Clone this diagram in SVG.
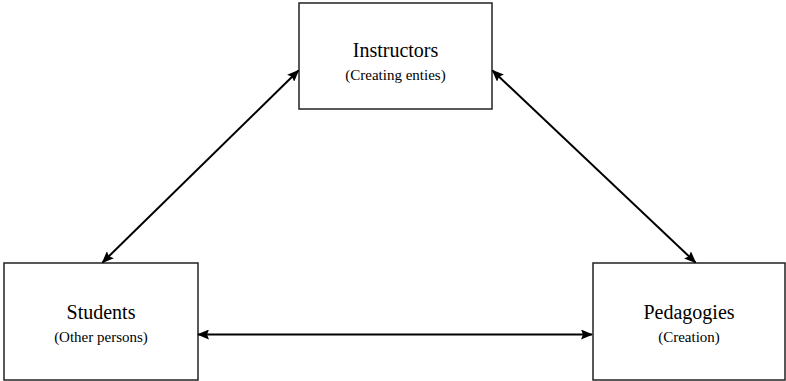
<svg xmlns="http://www.w3.org/2000/svg" width="786" height="381" viewBox="0 0 786 381">
<style>
.box{fill:#fff;stroke:#222;stroke-width:1.5}
.t{font-family:"Liberation Serif","Times New Roman",serif;fill:#000;text-anchor:middle}
.m{font-size:20px}
.s{font-size:15px}
.c{stroke:#000;stroke-width:2;fill:none;marker-start:url(#ah);marker-end:url(#ah)}
</style>
<defs>
<marker id="ah" viewBox="0 0 12 10" refX="11" refY="5" markerWidth="12" markerHeight="10" markerUnits="userSpaceOnUse" orient="auto-start-reverse">
<path d="M0,0 L12,5 L0,10 L2,5 Z" fill="#000"/>
</marker>
</defs>
<g id="instructors">
<rect class="box" x="299" y="3" width="193" height="106"/>
<text class="t m" x="395.5" y="57">Instructors</text>
<text class="t s" x="395.5" y="80">(Creating enties)</text>
</g>
<g id="students">
<rect class="box" x="4" y="263" width="194" height="117"/>
<text class="t m" x="101" y="319">Students</text>
<text class="t s" x="101" y="342">(Other persons)</text>
</g>
<g id="pedagogies">
<rect class="box" x="593" y="263" width="192" height="117"/>
<text class="t m" x="689" y="319">Pedagogies</text>
<text class="t s" x="689" y="342">(Creation)</text>
</g>
<g id="connectors">
<line class="c" x1="102.5" y1="262.5" x2="298.5" y2="70.5"/>
<line class="c" x1="492.5" y1="70.5" x2="695.5" y2="262.5"/>
<line class="c" x1="198" y1="334.5" x2="592" y2="334.5"/>
</g>
</svg>
